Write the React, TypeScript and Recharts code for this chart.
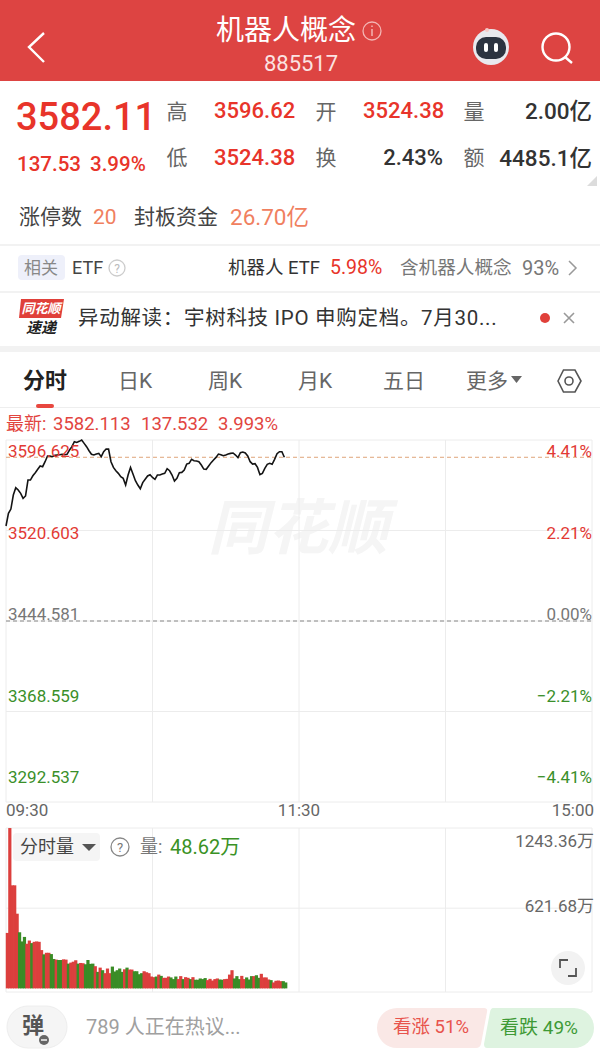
import { Bar, BarChart, CartesianGrid, Line, LineChart, ReferenceLine, XAxis, YAxis } from "recharts";

const FONT = 'Roboto, "Noto Sans CJK SC", sans-serif';
const RED = "#e8342a";
const BAR_RED = "#dc3f3d";
const BAR_GREEN = "#3a8c26";
const GREEN = "#3a9225";

// minute closes from 09:30
const prices = [
  3524.4, 3535.0, 3538.6, 3550.4, 3556.6, 3554.6, 3551.8, 3547.6, 3549.6, 3563.0,
  3563.0, 3566.6, 3569.2, 3572.0, 3574.8, 3574.2, 3578.4, 3583.2, 3583.2, 3582.6,
  3583.7, 3584.0, 3584.3, 3584.6, 3584.3, 3584.6, 3588.2, 3591.0, 3595.2, 3594.6,
  3595.5, 3596.6, 3593.8, 3591.0, 3587.6, 3584.6, 3584.0, 3584.8, 3585.4, 3582.6,
  3586.8, 3589.0, 3589.0, 3578.4, 3573.6, 3570.8, 3568.6, 3565.8, 3564.4, 3558.8,
  3567.2, 3573.6, 3568.0, 3562.4, 3558.8, 3555.7, 3560.8, 3563.6, 3566.4, 3567.5,
  3565.2, 3563.6, 3567.2, 3567.2, 3568.0, 3568.6, 3572.5, 3570.8, 3567.2, 3562.2,
  3564.4, 3569.2, 3569.4, 3571.4, 3576.4, 3577.0, 3580.4, 3579.2, 3579.0, 3578.4,
  3575.6, 3572.2, 3572.0, 3574.8, 3577.6, 3579.8, 3582.0, 3584.8, 3584.3, 3583.4,
  3584.0, 3584.8, 3585.4, 3585.7, 3584.0, 3581.8, 3586.0, 3586.5, 3585.7, 3583.2,
  3578.4, 3576.4, 3576.7, 3573.6, 3567.5, 3568.6, 3572.8, 3576.2, 3577.0, 3576.2,
  3580.4, 3585.1, 3586.8, 3586.8, 3582.1,
];

// volume per minute, in 万
const volumes = [
  430, 1243, 799, 799, 579, 435, 364, 399, 346, 371,
  351, 361, 364, 361, 297, 264, 276, 276, 266, 228,
  223, 220, 220, 225, 223, 192, 200, 207, 218, 192,
  197, 195, 187, 220, 190, 192, 172, 128, 161, 141,
  118, 154, 118, 169, 131, 141, 154, 128, 148, 161,
  146, 146, 133, 133, 110, 118, 133, 125, 118, 92,
  87, 92, 107, 97, 82, 82, 92, 85, 72, 92,
  72, 95, 72, 87, 82, 72, 87, 67, 67, 77,
  72, 80, 64, 74, 61, 72, 77, 69, 67, 72,
  74, 107, 141, 77, 95, 72, 97, 72, 85, 69,
  95, 95, 102, 82, 113, 85, 85, 69, 64, 46,
  59, 61, 56, 56, 46,
];

// r = up minute, g = down minute
const directions =
  "rrrrrgggrrgrrrrgrrggrggrrgrrrgrrgggg" +
  "rgrgrrrgggg" + "grgrrgggg" + "rrr" +
  "rrgrgrrrgggrrgrrgrgggggrrrrrgg" +
  "rrrrgggrrgggrggrrrrgrrrrg";

const priceTicks = [3292.537, 3368.559, 3444.581, 3520.603, 3596.625];
const percentLabels = ["−4.41%", "−2.21%", "0.00%", "2.21%", "4.41%"];
const minuteTicks = [0, 60, 120, 180, 240];
const timeLabels: Record<number, string> = { 0: "09:30", 120: "11:30", 240: "15:00" };
const PREV_CLOSE = 3444.581;
const LAST_PRICE = 3582.11;
const VOL_MAX = 1243.36;
const VOL_MID = 621.68;
const VOL_FLOOR = -28;

const priceData = prices.map((price, i) => ({ minute: i, price }));
const volumeData = volumes.map((vol, i) => ({ minute: i + 0.5, vol }));

function tickColor(index: number) {
  if (index === 2) return "#777";
  return index > 2 ? "#e23a34" : "#3a8f2a";
}

// labels sit inside the plot and are spaced tighter than the grid
function labelShift(index: number) {
  return 11 - 9 * (4 - index);
}

// each price tick also carries its percent label on the far side
function PriceTick(props: any) {
  const i = priceTicks.indexOf(props.payload.value);
  const y = props.y + labelShift(i);
  return (
    <g fontSize={17} fontFamily={FONT} fill={tickColor(i)}>
      <text x={8} y={y} dy={6}>
        {priceTicks[i].toFixed(3)}
      </text>
      <text x={592} y={y} dy={6} textAnchor="end">
        {percentLabels[i]}
      </text>
    </g>
  );
}

function TimeTick(props: any) {
  const label = timeLabels[props.payload.value];
  if (!label) return null;
  const anchor = props.payload.value === 0 ? "start" : props.payload.value === 240 ? "end" : "middle";
  return (
    <text x={props.x + (props.payload.value === 240 ? 2 : 0)} y={props.y + 6} textAnchor={anchor} fontSize={17} fontFamily={FONT} fill="#666">
      {label}
    </text>
  );
}

function VolumeTick(props: any) {
  const v = props.payload.value;
  if (v === VOL_FLOOR) return null;
  return (
    <text x={594} y={props.y + (v === VOL_MAX ? 19 : 4)} textAnchor="end" fontSize={17} fontFamily={FONT} fill="#666">
      {v.toFixed(2)}万
    </text>
  );
}

// library shrinks bars below the minute width, leaving gaps, so widen them around their centre
function VolumeBar(props: any) {
  return (
    <rect
      x={props.x + props.width / 2 - 1.22}
      y={props.y}
      width={3.2}
      height={props.height}
      fill={directions[props.index] === "r" ? BAR_RED : BAR_GREEN}
    />
  );
}

function T({ x, y, size = 20, color = "#333", weight = 400, anchor = "l", italic = false, spacing = 0, children }: any) {
  const tx = anchor === "l" ? "0" : anchor === "m" ? "-50%" : "-100%";
  return (
    <div
      style={{
        position: "absolute",
        left: x,
        top: y,
        transform: `translate(${tx}, -50%)`,
        fontSize: size,
        color,
        fontWeight: weight,
        fontStyle: italic ? "italic" : "normal",
        letterSpacing: spacing,
        lineHeight: 1,
        whiteSpace: "pre",
        fontFamily: FONT,
      }}
    >
      {children}
    </div>
  );
}

function Box({ x, y, w, h, bg, r = 0 }: any) {
  return <div style={{ position: "absolute", left: x, top: y, width: w, height: h, background: bg, borderRadius: r }} />;
}

function Icons() {
  return (
    <svg width={600} height={1062} style={{ position: "absolute", left: 0, top: 0 }}>
      {/* header */}
      <path d="M44 33 L29 47 L44 62" fill="none" stroke="#fff" strokeWidth={2.4} />
      <circle cx={372} cy={31} r={9} fill="none" stroke="#f3b5b3" strokeWidth={1.3} />
      <path d="M372 29 V36 M372 25.5 V27" stroke="#f3b5b3" strokeWidth={1.5} />
      <circle cx={491} cy={47} r={18} fill="#e9e9ee" />
      <rect x={476} y={37} width={30} height={22} rx={10} fill="#2c3340" />
      <rect x={484} y={43} width={4} height={9} rx={2} fill="#fff" />
      <rect x={494} y={43} width={4} height={9} rx={2} fill="#fff" />
      <circle cx={487} cy={30} r={2} fill="#f5c9c7" />
      <circle cx={556} cy={47} r={13.5} fill="none" stroke="#fff" strokeWidth={2.4} />
      <path d="M565 57 L572 63" stroke="#fff" strokeWidth={2.4} />
      <path d="M597 176 V186 H587 Z" fill="#dcdcdc" />
      {/* etf row */}
      <circle cx={117} cy={268} r={8} fill="none" stroke="#ccc" strokeWidth={1.3} />
      <text x={117} y={273} textAnchor="middle" fontSize={12} fill="#bbb" fontFamily={FONT}>?</text>
      <path d="M569 261 L576 268 L569 275" fill="none" stroke="#999" strokeWidth={1.5} />
      {/* news row */}
      <path d="M21 299 H64 L61 318 H19 Z" fill="#e0403a" />
      <circle cx={545} cy={318} r={5} fill="#e0403a" />
      <path d="M564 313 L574 323 M574 313 L564 323" stroke="#999" strokeWidth={1.6} />
      {/* tabs */}
      <path d="M511 376 H522 L516.5 383 Z" fill="#666" />
      <path d="M558 381 L563.5 370 H575 L581 381 L575 392 H563.5 Z" fill="none" stroke="#555" strokeWidth={1.6} />
      <circle cx={569} cy={381} r={4} fill="none" stroke="#555" strokeWidth={1.6} />
      {/* volume panel */}
      <path d="M82 844 H96 L89 851 Z" fill="#555" />
      <circle cx={120} cy={847} r={9} fill="none" stroke="#888" strokeWidth={1.3} />
      <text x={120} y={852} textAnchor="middle" fontSize={13} fill="#777" fontFamily={FONT}>?</text>
      <circle cx={568} cy={968} r={17} fill="#f2f2f2" />
      <path d="M560 968 V960 H568 M576 968 V976 H568" fill="none" stroke="#555" strokeWidth={1.8} />
      {/* bottom bar */}
      <rect x={7} y={1006} width={60} height={42} rx={21} fill="#f5f5f5" stroke="#eee" />
      <circle cx={44} cy={1040} r={5} fill="#666" />
      <path d="M41 1040 H47" stroke="#fff" strokeWidth={1.4} />
      <path d="M397 1008 H484 Q488 1008 487 1012 L481 1044 Q480 1048 476 1048 H397 A20 20 0 0 1 397 1008 Z" fill="#fae8e6" />
      <path d="M493 1008 H574 A20 20 0 0 1 574 1048 H487 Q484 1048 484 1044 L490 1012 Q491 1008 493 1008 Z" fill="#def3e0" />
    </svg>
  );
}

function PriceChart() {
  return (
    <div style={{ position: "absolute", left: 0, top: 439 }}>
      <LineChart width={600} height={388} data={priceData} margin={{ top: 1, right: 8, bottom: 0, left: 6 }}>
        <CartesianGrid stroke="#ececec" strokeWidth={1} />
        <XAxis
          dataKey="minute"
          type="number"
          domain={[0, 240]}
          ticks={minuteTicks}
          interval={0}
          height={25}
          tickLine={false}
          axisLine={false}
          tick={<TimeTick />}
        />
        <YAxis
          domain={[priceTicks[0], priceTicks[4]]}
          ticks={priceTicks}
          interval={0}
          width={1}
          mirror
          tickLine={false}
          axisLine={false}
          tick={<PriceTick />}
        />
        <ReferenceLine y={PREV_CLOSE} stroke="#888" strokeDasharray="4 3" />
        <ReferenceLine y={LAST_PRICE} stroke="#dfa57a" strokeDasharray="4 3" />
        <Line dataKey="price" type="linear" stroke="#141414" strokeWidth={1.6} dot={false} isAnimationActive={false} />
      </LineChart>
    </div>
  );
}

function VolumeChart() {
  return (
    <div style={{ position: "absolute", left: 0, top: 827 }}>
      <BarChart width={600} height={166} data={volumeData} margin={{ top: 1, right: 8, bottom: 1, left: 6 }} barCategoryGap={0}>
        <CartesianGrid stroke="#ececec" strokeWidth={1} />
        <XAxis dataKey="minute" type="number" domain={[0, 240]} ticks={minuteTicks} interval={0} hide />
        <YAxis
          orientation="right"
          domain={[VOL_FLOOR, VOL_MAX]}
          ticks={[VOL_FLOOR, VOL_MID, VOL_MAX]}
          interval={0}
          width={1}
          mirror
          tickLine={false}
          axisLine={false}
          tick={<VolumeTick />}
        />
        <Bar dataKey="vol" barSize={2} shape={<VolumeBar />} isAnimationActive={false} />
      </BarChart>
    </div>
  );
}

export default function App() {
  return (
    <div style={{ position: "relative", width: 600, height: 1062, overflow: "hidden", background: "#fff" }}>
      <style>{"body{margin:0}"}</style>

      <Box x={0} y={0} w={600} h={81} bg="#dd4442" />
      <Box x={0} y={244} w={600} h={2} bg="#f2f2f2" />
      <Box x={0} y={291} w={600} h={2} bg="#f2f2f2" />
      <Box x={0} y={346} w={600} h={6} bg="#f2f2f2" />
      <Box x={0} y={407} w={600} h={1} bg="#eeeeee" />
      <Box x={18} y={255} w={47} h={25} bg="#eef0fa" r={4} />
      <Box x={36} y={404} w={18} h={4} bg="#e8473f" r={2} />
      <Box x={13} y={833} w={87} h={28} bg="#f5f5f5" r={4} />
      <Icons />

      <T x={286} y={31} size={28} color="#fff" anchor="m">机器人概念</T>
      <T x={301} y={64} size={22} color="#fbe3e2" anchor="m">885517</T>

      <T x={16} y={117} size={38} color={RED} weight={500}>3582.11</T>
      <T x={17} y={164} size={20.5} color={RED} weight={500}>137.53</T>
      <T x={90} y={164} size={20.5} color={RED} weight={500}>3.99%</T>

      <T x={177} y={112} size={21} color="#666" anchor="m">高</T>
      <T x={214} y={111} size={22} color={RED} weight={500}>3596.62</T>
      <T x={326} y={112} size={21} color="#666" anchor="m">开</T>
      <T x={363} y={111} size={22} color={RED} weight={500}>3524.38</T>
      <T x={474} y={112} size={21} color="#666" anchor="m">量</T>
      <T x={592} y={111} size={22.5} color="#333" weight={500} anchor="r">2.00亿</T>
      <T x={177} y={158} size={21} color="#666" anchor="m">低</T>
      <T x={214} y={158} size={22} color={RED} weight={500}>3524.38</T>
      <T x={326} y={158} size={21} color="#666" anchor="m">换</T>
      <T x={443} y={158} size={22} color="#333" weight={500} anchor="r">2.43%</T>
      <T x={474} y={158} size={21} color="#666" anchor="m">额</T>
      <T x={592} y={158} size={22.5} color="#333" weight={500} anchor="r">4485.1亿</T>

      <T x={19} y={217} size={21} color="#444">涨停数</T>
      <T x={93} y={217} size={21} color="#f0805f">20</T>
      <T x={134} y={217} size={21} color="#444">封板资金</T>
      <T x={230} y={217} size={22.5} color="#f0805f">26.70亿</T>

      <T x={41} y={268} size={17} color="#888" anchor="m">相关</T>
      <T x={72} y={268} size={18} color="#444">ETF</T>
      <T x={228} y={268} size={18.5} color="#333">机器人 ETF</T>
      <T x={330} y={268} size={19.5} color={RED}>5.98%</T>
      <T x={400} y={268} size={18.6} color="#777">含机器人概念</T>
      <T x={522} y={268} size={20} color="#777">93%</T>

      <T x={41} y={308} size={13} color="#fff" weight={700} anchor="m" italic>同花顺</T>
      <T x={41} y={328} size={15} color="#222" weight={700} anchor="m" italic>速递</T>
      <T x={78} y={318} size={20.5} color="#333" spacing={0.7}>异动解读：宇树科技 IPO 申购定档。7月30...</T>

      <T x={45} y={381} size={22} color="#222" weight={700} anchor="m">分时</T>
      <T x={135} y={381} size={21} color="#666" anchor="m">日K</T>
      <T x={225} y={381} size={21} color="#666" anchor="m">周K</T>
      <T x={315} y={381} size={21} color="#666" anchor="m">月K</T>
      <T x={404} y={381} size={21} color="#666" anchor="m">五日</T>
      <T x={487} y={381} size={21} color="#666" anchor="m">更多</T>

      <T x={6} y={424} size={18} color="#e2453f">最新:</T>
      <T x={53} y={424} size={18.5} color="#e2453f">3582.113</T>
      <T x={141} y={424} size={18.5} color="#e2453f">137.532</T>
      <T x={218} y={424} size={18.5} color="#e2453f">3.993%</T>

      <T x={298} y={529} size={60} color="#f5f5f5" weight={700} anchor="m" italic>同花顺</T>

      <PriceChart />
      <VolumeChart />

      <T x={20} y={847} size={18} color="#444">分时量</T>
      <T x={140} y={847} size={18} color="#777">量:</T>
      <T x={170} y={847} size={20} color={GREEN}>48.62万</T>

      <T x={33} y={1026} size={22} color="#555" weight={700} anchor="m">弹</T>
      <T x={86} y={1027} size={20} color="#a0a0a0">789 人正在热议...</T>
      <T x={431} y={1027} size={18.5} color="#e8534c" anchor="m">看涨 51%</T>
      <T x={539} y={1027} size={19} color="#3e9a36" anchor="m">看跌 49%</T>
    </div>
  );
}
